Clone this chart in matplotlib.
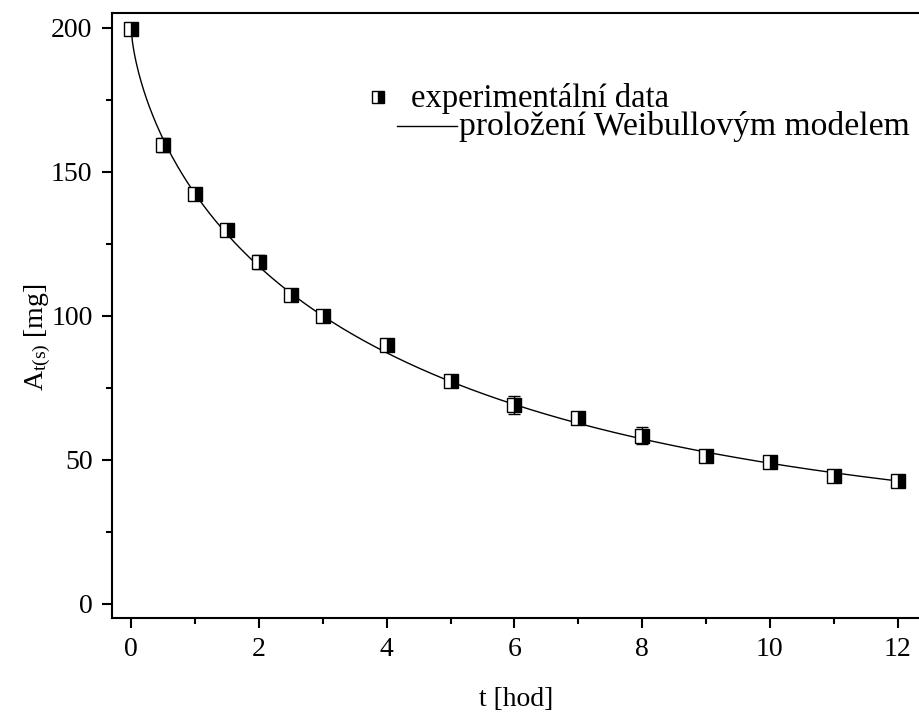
import numpy as np
import matplotlib.pyplot as plt
from matplotlib.lines import Line2D
from matplotlib.ticker import MultipleLocator

plt.rcParams['font.family'] = ['Liberation Serif', 'DejaVu Serif']
plt.rcParams['mathtext.fontset'] = 'custom'
plt.rcParams['mathtext.rm'] = 'Liberation Serif'
plt.rcParams['mathtext.it'] = 'Liberation Serif:italic'

# experimental data
t = [0, 0.5, 1, 1.5, 2, 2.5, 3, 4, 5, 6, 7, 8, 9, 10, 11, 12]
a_ts = [199.7, 159.4, 142.4, 129.9, 118.7, 107.2, 100.0, 90.0, 77.3, 69.0, 64.6, 58.3, 51.4, 49.3, 44.4, 42.6]
err = [1.0, 2.5, 1.5, 1.5, 2.5, 2.0, 1.0, 1.5, 1.0, 3.0, 1.5, 3.0, 1.0, 2.0, 1.0, 1.0]

# Weibull fit parameters: A = Ainf + (A0 - Ainf) * exp(-k * t^b)
A0 = 200.0
Ainf = 20.0
k = 0.3857
b = 0.677

fig = plt.figure(figsize=(9.2, 7.2), dpi=100)
ax = fig.add_axes([112 / 920, 102 / 720, 1 - 112 / 920, 605 / 720])

tt = np.linspace(0, 12, 600)
ax.plot(tt, Ainf + (A0 - Ainf) * np.exp(-k * tt ** b), color='black', lw=1.0, zorder=2)

ax.errorbar(t, a_ts, yerr=err, fmt='s', color='black', ecolor='black',
            elinewidth=1.0, capsize=4, capthick=1.0,
            markersize=10, fillstyle='right', markerfacecolor='black',
            markerfacecoloralt='white', markeredgecolor='black',
            markeredgewidth=1.0, zorder=3)

ax.set_xlim(-0.3, 12.35)
ax.set_ylim(-5, 205.2)
ax.xaxis.set_major_locator(MultipleLocator(2))
ax.xaxis.set_minor_locator(MultipleLocator(1))
ax.yaxis.set_major_locator(MultipleLocator(50))
ax.yaxis.set_minor_locator(MultipleLocator(25))
ax.tick_params(which='both', direction='out', width=1.5, labelsize=20)
ax.tick_params(which='major', length=7, pad=7)
ax.tick_params(which='minor', length=4)
for s in ['left', 'bottom', 'top']:
    ax.spines[s].set_linewidth(1.5)
ax.spines['right'].set_visible(False)

ax.set_xlabel('t [hod]', fontsize=20, labelpad=18)
ax.set_ylabel(r'A$_{\mathrm{t(s)}}$ [mg]', fontsize=20)
ax.yaxis.set_label_coords(-0.073, 0.464)

# legend, drawn by hand
fig.add_artist(Line2D([378 / 920], [1 - 97 / 720], marker='s', markersize=8,
                      fillstyle='right', markerfacecolor='black',
                      markerfacecoloralt='white', markeredgecolor='black',
                      markeredgewidth=1.0, transform=fig.transFigure))
fig.text(411 / 920, 1 - 98 / 720, 'experimentální data', fontsize=23.5, va='center')
fig.add_artist(Line2D([397 / 920, 457 / 920], [1 - 126 / 720, 1 - 126 / 720],
                      color='black', lw=1.0, transform=fig.transFigure))
fig.text(459 / 920, 1 - 127 / 720, 'proložení Weibullovým modelem', fontsize=24.2, va='center')

fig.savefig('out.png', dpi=100)
